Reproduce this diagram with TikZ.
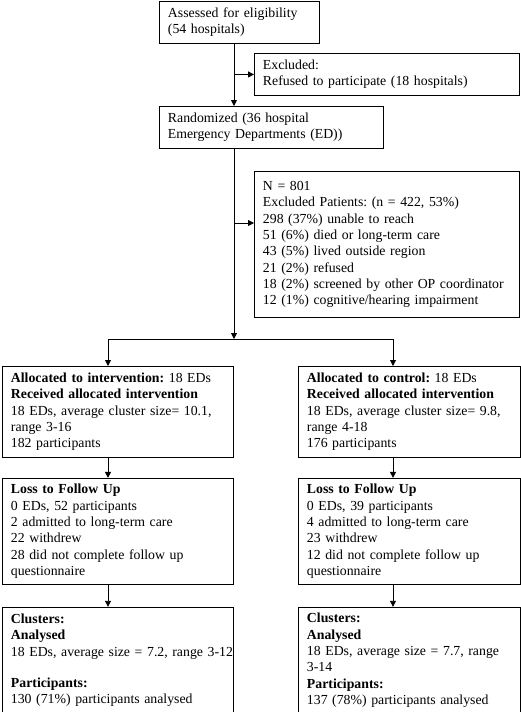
\documentclass[tikz,border=0pt]{standalone}
\usepackage{fontspec}
\setmainfont{Liberation Serif}
\usetikzlibrary{arrows.meta, positioning}

\begin{document}
\frenchspacing
\begin{tikzpicture}[
    x=1pt, y=1pt,
    node distance=20pt,
    box/.style={rectangle, draw=black, line width=0.9pt, anchor=north west,
                align=left, inner xsep=8.5pt, inner ysep=3pt,
                font=\fontsize{13.8}{16.3}\selectfont},
    arr/.style={-{Triangle[length=6pt, width=6pt]}, line width=0.9pt},
    link/.style={line width=0.9pt}
]
\useasboundingbox (0,0) rectangle (521,-712);

% enrolment
\node[box, minimum width=160, text width=143, minimum height=42] (assess) at (159,-1)
    {Assessed for eligibility\\(54 hospitals)};
\node[box, minimum width=265, text width=248, minimum height=42] (excl) at (254,-53)
    {Excluded:\\Refused to participate (18 hospitals)};
\node[box, minimum width=224, text width=207, minimum height=42] (rand) at (159,-106)
    {Randomized (36 hospital\\Emergency Departments (ED))};
\node[box, minimum width=265, text width=248, minimum height=146] (nbox) at (254,-171)
    {N = 801\\
     Excluded Patients: (n = 422, 53\%)\\
     298 (37\%) unable to reach\\
     51 (6\%) died or long-term care\\
     43 (5\%) lived outside region\\
     21 (2\%) refused\\
     18 (2\%) screened by other OP coordinator\\
     12 (1\%) cognitive/hearing impairment};

% intervention arm
\node[box, minimum width=231, text width=214, minimum height=91] (allocL) at (2,-366)
    {\textbf{Allocated to intervention:} 18 EDs\\
     \textbf{Received allocated intervention}\\
     18 EDs, average cluster size= 10.1,\\
     range 3-16\\
     182 participants};
\node[box, minimum width=231, text width=214, minimum height=106, below=of allocL] (lossL)
    {\textbf{Loss to Follow Up}\\
     0 EDs, 52 participants\\
     2 admitted to long-term care\\
     22 withdrew\\
     28 did not complete follow up\\
     questionnaire};
\node[box, minimum width=231, text width=214, minimum height=106, below=22pt of lossL] (clustL)
    {\textbf{Clusters:}\\
     \textbf{Analysed}\\
     \mbox{18 EDs, average size = 7.2, range 3-12}\\[15pt]
     \textbf{Participants:}\\
     130 (71\%) participants analysed};

% control arm
\node[box, minimum width=222, text width=205, minimum height=91] (allocR) at (298,-366)
    {\textbf{Allocated to control:} 18 EDs\\
     \textbf{Received allocated intervention}\\
     \mbox{18 EDs, average cluster size= 9.8,}\\
     range 4-18\\
     176 participants};
\node[box, minimum width=222, text width=205, minimum height=106, below=of allocR] (lossR)
    {\textbf{Loss to Follow Up}\\
     0 EDs, 39 participants\\
     4 admitted to long-term care\\
     23 withdrew\\
     12 did not complete follow up\\
     questionnaire};
\node[box, minimum width=222, text width=205, minimum height=106, below=22pt of lossR] (clustR)
    {\textbf{Clusters:}\\
     \textbf{Analysed}\\
     18 EDs, average size = 7.7, range\\
     3-14\\
     \textbf{Participants:}\\
     137 (78\%) participants analysed};

% junction points
\coordinate (split)  at (234,-339);
\coordinate (splitL) at (108,-339);
\coordinate (splitR) at (393,-339);
\coordinate (side)   at (234,-223);

\draw[arr] (assess.south -| split) -- (rand.north -| split);
\draw[arr] (split |- excl.west) -- (excl.west);
\draw[arr] (rand.south -| split) -- (split);
\draw[arr] (side) -- (side -| nbox.west);
\draw[link] (splitL) -- (splitR);
\draw[arr] (splitL) -- (splitL |- allocL.north);
\draw[arr] (splitR) -- (splitR |- allocR.north);
\draw[arr] (allocL.south -| splitL) -- (lossL.north -| splitL);
\draw[arr] (lossL.south -| splitL) -- (clustL.north -| splitL);
\draw[arr] (allocR.south -| splitR) -- (lossR.north -| splitR);
\draw[arr] (lossR.south -| splitR) -- (clustR.north -| splitR);
\end{tikzpicture}
\end{document}
